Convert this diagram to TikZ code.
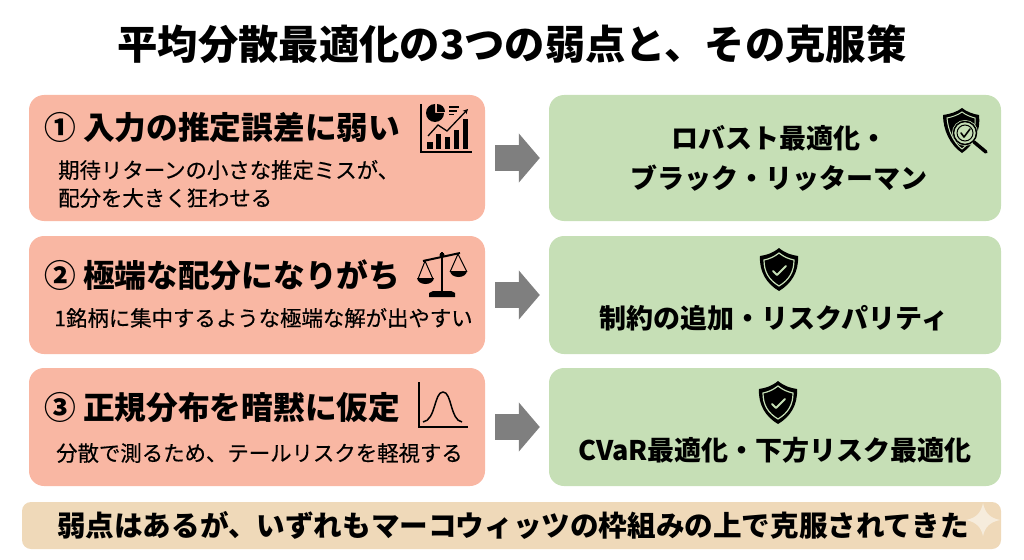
\documentclass[tikz,border=0pt]{standalone}
\usepackage{fontspec}
\setmainfont{Noto Sans CJK JP}
\newfontfamily\subfont[FakeBold=0.35]{Noto Sans CJK JP}
\usetikzlibrary{arrows.meta}

\definecolor{weakfill}{HTML}{F9B7A3}
\definecolor{curefill}{HTML}{C6DFB6}
\definecolor{notefill}{HTML}{EFD9B9}
\definecolor{arrowgray}{HTML}{7F7F7F}
\definecolor{sparkfill}{HTML}{F6ECDC}

\tikzset{
  weakbox/.style={fill=weakfill, rounded corners=15pt, minimum width=456pt, inner sep=0pt},
  curebox/.style={fill=curefill, rounded corners=15pt, minimum width=452pt, inner sep=0pt},
  headtext/.style={anchor=west, inner sep=0pt, font=\fontsize{31.7}{31.7}\selectfont\bfseries},
  subtext/.style={anchor=west, inner sep=0pt, font=\fontsize{21.4}{28}\subfont},
  curetext/.style={inner sep=0pt, align=center, font=\fontsize{27}{40}\selectfont\bfseries},
  blockarrow/.style={draw=arrowgray, line width=26pt, -{Triangle[length=21pt,width=48pt]}, shorten <=10pt, shorten >=9pt},
  pics/shieldicon/.style={code={
    \fill[black] (0,0) .. controls (6,5) and (12,7) .. (19,8) .. controls (20,24) and (12,36) .. (0,43)
      .. controls (-12,36) and (-20,24) .. (-19,8) .. controls (-12,7) and (-6,5) .. (0,0) -- cycle;
    \draw[curefill, line width=1.2pt] (0,5) .. controls (5,9) and (10,11) .. (15,12) .. controls (15,24) and (10,32) .. (0,38)
      .. controls (-10,32) and (-15,24) .. (-15,12) .. controls (-10,11) and (-5,9) .. (0,5) -- cycle;
    \draw[curefill, line width=2pt, line cap=round, line join=round] (-6,23) -- (-2,27) -- (7,18);
  }}
}

\begin{document}
\begin{tikzpicture}[x=1pt, y=-1pt, >=Stealth]
\useasboundingbox (0,0) rectangle (1024,559);

\node[inner sep=0pt, font=\fontsize{40.3}{40.3}\selectfont\bfseries] (title) at (512,44) {平均分散最適化の3つの弱点と、その克服策};

% left column
\node[weakbox, minimum height=126pt] (weakA) at (257,158) {};
\node[weakbox, minimum height=118pt] (weakB) at (257,295) {};
\node[weakbox, minimum height=118pt] (weakC) at (257,427) {};

% right column
\node[curebox, minimum height=126pt] (cureA) at (775,158) {};
\node[curebox, minimum height=118pt] (cureB) at (775,295) {};
\node[curebox, minimum height=118pt] (cureC) at (775,427) {};

\draw[blockarrow] (weakA) -- (cureA);
\draw[blockarrow] (weakB) -- (cureB);
\draw[blockarrow] (weakC) -- (cureC);

\node[headtext] (headA) at (44,128) {① 入力の推定誤差に弱い};
\node[subtext] (subA) at (58,170) {期待リターンの小さな推定ミスが、};
\node[subtext] (subAb) at (58,198) {配分を大きく狂わせる};

\node[headtext] (headB) at (44,275) {② 極端な配分になりがち};
\node[subtext] (subB) at (54,318) {1銘柄に集中するような極端な解が出やすい};

\node[headtext] (headC) at (44,408) {③ 正規分布を暗黙に仮定};
\node[subtext] (subC) at (56,453) {分散で測るため、テールリスクを軽視する};

\node[curetext] (textA) at (779,158) {ロバスト最適化・\\ブラック・リッターマン};
\node[curetext] (textB) at (774,318) {制約の追加・リスクパリティ};
\node[curetext] (textC) at (775,450) {CVaR最適化・下方リスク最適化};

% bottom note
\node[fill=notefill, rounded corners=9pt, minimum width=979pt, minimum height=47pt, inner sep=0pt] (note) at (511.5,525.5) {};
\fill[sparkfill] (983,503) .. controls (985,513) and (990,518) .. (1000,520) .. controls (990,522) and (985,527) .. (983,536)
  .. controls (981,527) and (976,522) .. (966,520) .. controls (976,518) and (981,513) .. (983,503) -- cycle;
\node[inner sep=0pt, font=\fontsize{28.6}{28.6}\selectfont\bfseries] (noteText) at (513,525) {弱点はあるが、いずれもマーコウィッツの枠組みの上で克服されてきた};

% chart icon
\draw[line width=1.6pt] (421,104) -- (421,152) -- (472,152);
\fill (427,142) rectangle (433,149);
\fill (436,134) rectangle (441,149);
\fill (445,137) rectangle (450,149);
\fill (454,130) rectangle (459,149);
\fill (463,119) rectangle (468,149);
\fill (435,113) -- (435,104) arc[start angle=-90, end angle=-360, radius=9] -- cycle;
\fill (437,112) -- (437,104) arc[start angle=-90, end angle=0, radius=8] -- cycle;
\draw[line width=1.1pt] (449,107) -- (459,107) (449,111) -- (457,111) (449,114.5) -- (454,114.5);
\draw[line width=1.3pt, -{Stealth[length=5pt,width=5pt]}] (428,136) -- (438,125) -- (447,131) -- (468,109);

% search shield icon
\fill (962,108) .. controls (967,112) and (973,114) .. (979,115) .. controls (981,130) and (974,145) .. (962,153)
  .. controls (950,145) and (943,130) .. (943,115) .. controls (950,114) and (957,112) .. (962,108) -- cycle;
\draw[curefill, line width=1pt] (962,112) .. controls (966,115) and (971,117) .. (975,118) .. controls (976,130) and (971,142) .. (962,149)
  .. controls (953,142) and (948,130) .. (947,118) .. controls (952,117) and (958,115) .. (962,112) -- cycle;
\fill[curefill] (965,133) circle[radius=13];
\draw[line width=1.5pt] (965,133) circle[radius=11.5];
\draw[line width=1pt] (965,133) circle[radius=8];
\draw[line width=3.5pt, line cap=round] (974,142) -- (986,152);
\draw[line width=1.6pt, line cap=round, line join=round] (961,133) -- (964,137) -- (970,129);

% shield icons
\pic at (779,248) {shieldicon};
\pic at (778,381) {shieldicon};

% scale icon
\draw[line width=2.2pt] (442,252) -- (442,293);
\fill (429,293) -- (433,291) -- (451,291) -- (455,293) -- (455,297) -- (429,297) -- cycle;
\draw[line width=2pt] (423,261) -- (460,253);
\fill (442,255) circle[radius=2.5];
\draw[line width=1pt] (418,279) -- (425,261) -- (433,279);
\draw[line width=1pt] (450,272) -- (458,254) -- (467,272);
\fill (417,278) -- (434,278) .. controls (433,286) and (418,286) .. (417,278) -- cycle;
\fill (450,271) -- (467,271) .. controls (466,279) and (451,279) .. (450,271) -- cycle;

% bell curve icon
\draw[line width=1.6pt] (419,382) -- (419,427) -- (468,427);
\draw[line width=1.5pt] (423,422) .. controls (436,420) and (434,392) .. (443,392) .. controls (452,392) and (450,420) .. (462,422);

\end{tikzpicture}
\end{document}
